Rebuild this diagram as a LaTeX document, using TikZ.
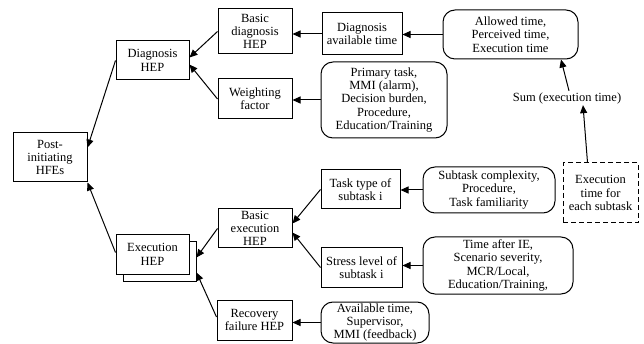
\documentclass[tikz,border=0pt]{standalone}
\usepackage{fontspec}
\setmainfont{Liberation Serif}
\usetikzlibrary{arrows.meta}

\begin{document}
\begin{tikzpicture}[x=1pt, y=-1pt, line width=1pt, >={Triangle[length=8pt,width=7pt]}]
			\tikzstyle{every node}=[inner sep=1pt, align=center, font=\fontsize{12.5}{13.3}\selectfont]
			\tikzstyle{box}=[draw, rectangle]
			\tikzstyle{pool}=[draw, rectangle, rounded corners=12pt]
			\useasboundingbox (0,0) rectangle (644,344);
			% left part
			\node [box, minimum width=74, minimum height=49] (post) at (50, 157.5) {Post-\\initiating\\HFEs};
			\node [box, minimum width=73, minimum height=39] (dhep) at (152.5, 60.5) {Diagnosis\\HEP};
			\node [box, fill=white, minimum width=73, minimum height=39] (execs) at (159.5, 261.5) {};
			\node [box, fill=white, minimum width=73, minimum height=39] (exec) at (152.5, 254.5) {Execution\\HEP};
			\node [box, minimum width=74, minimum height=45] (bdhep) at (255, 31.5) {Basic\\diagnosis\\HEP};
			\node [box, minimum width=74, minimum height=40] (wf) at (255, 99) {Weighting\\factor};
			\node [box, minimum width=74, minimum height=39] (bexec) at (255, 228.5) {Basic\\execution\\HEP};
			\node [box, minimum width=75, minimum height=40] (recov) at (254.5, 320) {Recovery\\failure HEP};
			% middle part
			\node [box, minimum width=80, minimum height=42] (dat) at (362, 34) {Diagnosis\\available time};
			\node [box, minimum width=79, minimum height=39] (ttype) at (360.5, 189.5) {Task type of\\subtask i};
			\node [box, minimum width=81, minimum height=39] (stress) at (361.5, 267.5) {Stress level of\\subtask i};
			\node [pool, minimum width=126, minimum height=76] (prim) at (384, 100) {Primary task,\\MMI (alarm),\\Decision burden,\\Procedure,\\Education/Training};
			\node [pool, minimum width=108, minimum height=41] (avail) at (375, 322.5) {Available time,\\Supervisor,\\MMI (feedback)};
			% right part
			\node [pool, minimum width=135, minimum height=49] (allow) at (510.5, 34.5) {Allowed time,\\Perceived time,\\Execution time};
			\node [pool, minimum width=132, minimum height=46] (subt) at (489, 190) {Subtask complexity,\\Procedure,\\Task familiarity};
			\node [pool, minimum width=150, minimum height=57] (after) at (498, 265.5) {Time after IE,\\Scenario severity,\\MCR/Local,\\Education/Training,};
			\node (sum) at (567, 98) {Sum (execution time)};
			\node [box, dash pattern=on 5pt off 3pt, minimum width=75, minimum height=60] (etime) at (600.5, 193) {Execution\\time for\\each subtask};
			% connectors
			\draw [->] (dhep.west) -- ([yshift=10pt]post.east);
			\draw [->] ([yshift=2pt]exec.west) -- (post.south east);
			\draw [->] (bdhep.west) -- ([yshift=3pt]dhep.east);
			\draw [->] (wf.west) -- ([yshift=-4pt]dhep.east);
			\draw [->] (bexec.west) -- ([yshift=4pt]execs.east);
			\draw [->] ([yshift=3pt]recov.west) -- ([yshift=-11pt]execs.east);
			\draw [->] (dat.west) -- (dat.west -| bdhep.east);
			\draw [->] (allow.west) -- (allow.west -| dat.east);
			\draw [->] (prim.west) -- (prim.west -| wf.east);
			\draw [->] (ttype.west) -- ([yshift=5pt]bexec.east);
			\draw [->] (stress.west) -- ([yshift=-4pt]bexec.east);
			\draw [->] (subt.west) -- (subt.west -| ttype.east);
			\draw [->] (after.west) -- (after.west -| stress.east);
			\draw [->] (avail.west) -- (avail.west -| recov.east);
			\draw [->] ([xshift=2pt]sum.north) -- ([xshift=-6pt]sum.north |- allow.south);
			\draw [->] ([xshift=-13pt]etime.north) -- ([xshift=16pt]sum.south);
	\end{tikzpicture}
\end{document}
